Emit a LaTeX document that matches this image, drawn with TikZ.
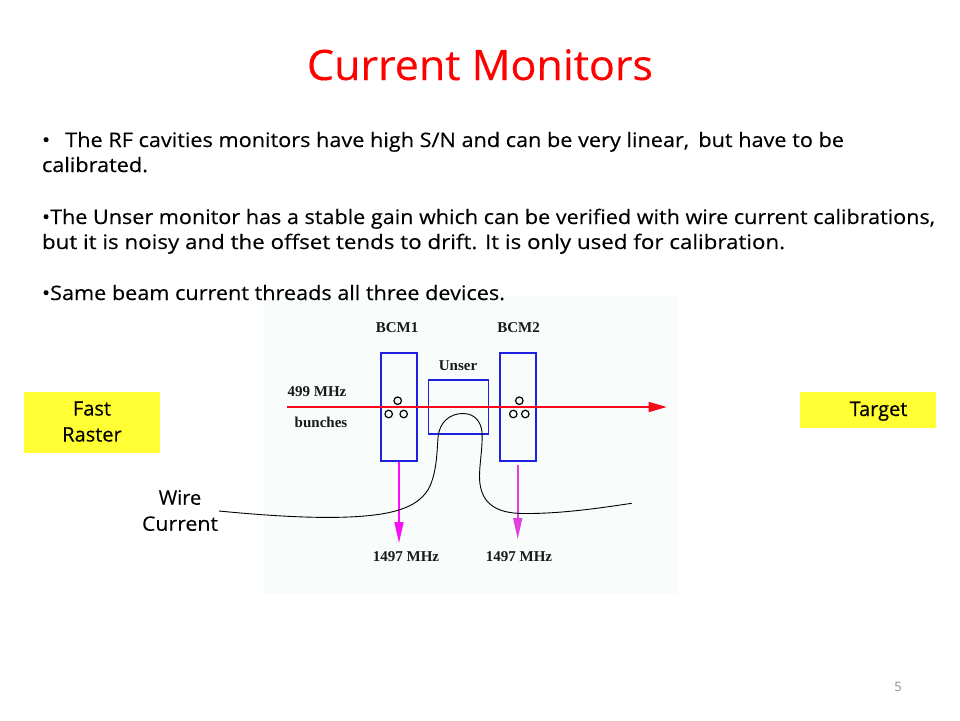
\documentclass[tikz,border=0pt]{standalone}
\usepackage{fontspec}
\usepackage{graphicx}
\usetikzlibrary{arrows.meta}
\setmainfont{Open Sans}[BoldFont={Open Sans},BoldFeatures={FakeBold=0.25}]
\newfontfamily\figfont{Liberation Serif}
\definecolor{titlered}{HTML}{FF0000}
\definecolor{panelbg}{HTML}{F8FCFA}
\definecolor{rasteryellow}{HTML}{FFFF33}
\definecolor{boxblue}{HTML}{2020E0}
\definecolor{beamred}{HTML}{F80818}
\definecolor{pagegray}{HTML}{8A8A8A}
\definecolor{sigA}{HTML}{F810F8}
\definecolor{sigB}{HTML}{E040E0}
\newcommand{\fitline}[2]{\resizebox{#1pt}{\height}{#2}}
\tikzset{
  x=1pt,y=-1pt,
  bodyline/.style={anchor=base west,inner sep=0pt,outer sep=0pt,font=\bfseries\fontsize{20}{24}\selectfont,text=black},
  figlabel/.style={inner sep=0pt,font=\figfont\bfseries\fontsize{15}{17}\selectfont,text=black!90},
  cavity/.style={draw=boxblue,line width=1.3pt,inner sep=0pt,minimum width=36pt,minimum height=108pt},
  hole/.style={draw=black,line width=1.2pt,circle,inner sep=0pt,minimum size=7.5pt},
  yellowbox/.style={fill=rasteryellow,inner sep=0pt,minimum width=136pt},
  tagtext/.style={inner sep=0pt,align=center,font=\bfseries\fontsize{20}{26}\selectfont,text=black},
  beam/.style={draw=beamred,line width=1.6pt,-{Triangle[length=18pt,width=10pt,fill=beamred]}},
  signal/.style={draw=#1,line width=1.6pt,-{Triangle[length=21pt,width=9pt,fill=#1]}},
  wire/.style={draw=black,line width=0.9pt},
}
\begin{document}
\begin{tikzpicture}
\useasboundingbox (0,0) rectangle (960,720);
\fill[white] (0,0) rectangle (960,720);
\node[fill=panelbg,inner sep=0pt,minimum width=414pt,minimum height=298pt] (panel) at (471,445) {};

\node[anchor=base,inner sep=0pt,text=titlered,font=\bfseries\fontsize{42}{48}\selectfont] (title) at (480,80) {\fitline{346}{Current Monitors}};

\node[bodyline] (l1) at (42,147) {\fitline{802}{•\hspace{0.7em}The RF cavities monitors have high S/N and can be very linear,\, but have to be}};
\node[bodyline] (l2) at (42,172) {\fitline{106}{calibrated.}};
\node[bodyline] (l3) at (42,224) {\fitline{893}{•The Unser monitor has a stable gain which can be verified with wire current calibrations,}};
\node[bodyline] (l4) at (42,249) {\fitline{743}{but it is noisy and the offset tends to drift. It is only used for calibration.}};
\node[bodyline] (l5) at (42,300) {\fitline{463}{•Same beam current threads all three devices.}};

\node[cavity] (bcmA) at (399,407) {};
\node[cavity] (bcmB) at (518,407) {};
\node[draw=boxblue,line width=1.3pt,inner sep=0pt,minimum width=60pt,minimum height=54pt] (unser) at (458.5,407) {};

\node[hole] (a1) at (397.7,400.7) {};
\node[hole] (a2) at (388.7,414) {};
\node[hole] (a3) at (403.7,414) {};
\node[hole] (b1) at (519.3,400.7) {};
\node[hole] (b2) at (513.3,414) {};
\node[hole] (b3) at (525.3,414) {};

\coordinate (beamstart) at (286.7,407);
\coordinate (beamend) at (666.7,407);
\draw[beam] (beamstart) -- (beamend);

\coordinate (sigAend) at (399,543);
\coordinate (sigBstart) at (517.7,465);
\coordinate (sigBend) at (517.7,539);
\draw[signal=sigA] (bcmA.south) -- (sigAend);
\draw[signal=sigB] (sigBstart) -- (sigBend);

\node[figlabel] (lbcmA) at (397,328) {BCM1};
\node[figlabel] (lbcmB) at (518.5,328) {BCM2};
\node[figlabel] (lunser) at (458,366) {Unser};
\node[figlabel] (lmhz) at (317,392) {499 MHz};
\node[figlabel] (lbunch) at (321,422) {bunches};
\node[figlabel] (outA) at (406,557) {1497 MHz};
\node[figlabel] (outB) at (519,557) {1497 MHz};

\node[yellowbox,minimum height=61pt] (raster) at (92,422.5) {};
\node[tagtext] (rastertext) at (92,421.5) {Fast\\Raster};
\node[yellowbox,minimum height=36pt] (target) at (868,410) {};
\node[tagtext,anchor=base] (targettext) at (878.5,416) {Target};
\node[tagtext] (wirelabel) at (180,510.5) {Wire\\\resizebox{76pt}{\height}{Current}};

\coordinate (wirestart) at (219,511);
\coordinate (wireend) at (631.7,503.3);
\draw[wire] (wirestart)
  .. controls (270,516) and (320,519) .. (358,516.5)
  .. controls (395,514) and (420,507) .. (430,486)
  .. controls (437,470) and (437,450) .. (438,438)
  .. controls (439,422) and (450,413.5) .. (463,413.5)
  .. controls (475,413.5) and (481,422) .. (482,432)
  .. controls (483,450) and (478,470) .. (480,484)
  .. controls (483,505) and (498,513) .. (522,513.5)
  .. controls (560,514) and (600,508) .. (wireend);

\node[inner sep=0pt,text=pagegray,font=\fontsize{13}{15}\selectfont] (page) at (898,687) {5};
\end{tikzpicture}
\end{document}
